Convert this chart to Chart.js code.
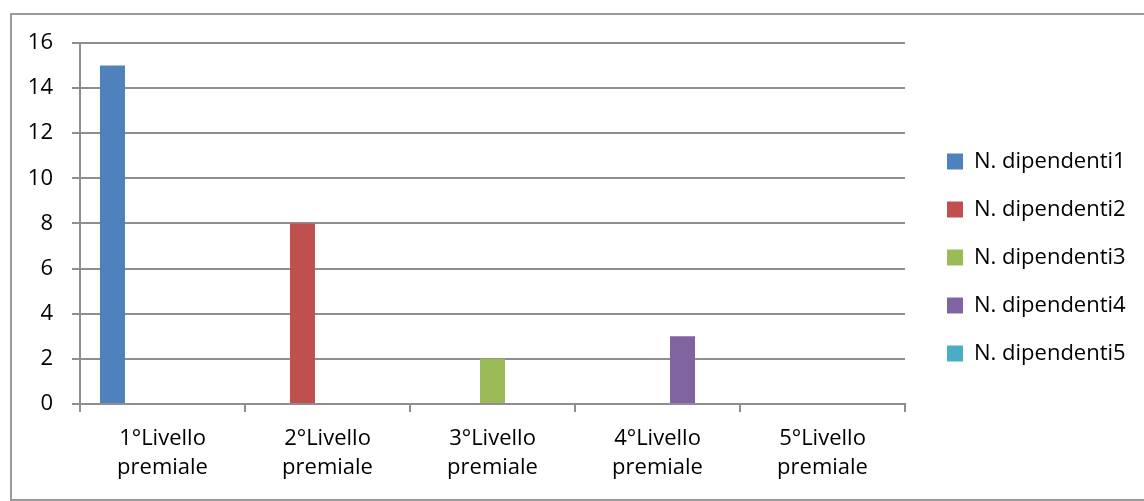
<!DOCTYPE html>
<html>
<head>
<meta charset="utf-8">
<script src="https://cdn.jsdelivr.net/npm/chart.js@4"></script>
<style>
  html, body { margin: 0; padding: 0; background: #fff; overflow: hidden; }
  #frame { position: absolute; left: 10px; top: 13px; width: 1200px; height: 484px; border: 2px solid #9a9a9a; }
  #chart { position: absolute; left: 0; top: 0; }
</style>
</head>
<body>
<div id="frame"></div>
<canvas id="chart" width="1144" height="501"></canvas>
<script>
// categorie (asse x, su due righe)
const categorie = [
  ["1°Livello", "premiale"],
  ["2°Livello", "premiale"],
  ["3°Livello", "premiale"],
  ["4°Livello", "premiale"],
  ["5°Livello", "premiale"]
];

// una serie per livello
const dipendenti1 = [15, 0, 0, 0, 0];
const dipendenti2 = [0, 8, 0, 0, 0];
const dipendenti3 = [0, 0, 2, 0, 0];
const dipendenti4 = [0, 0, 0, 3, 0];
const dipendenti5 = [0, 0, 0, 0, 0];

const nomiSerie = ["N. dipendenti1", "N. dipendenti2", "N. dipendenti3", "N. dipendenti4", "N. dipendenti5"];
const colori = ["#4F81BD", "#C0504D", "#9BBB59", "#8064A2", "#4BACC6"];

// tick asse y
const yMin = 0;
const yMax = 16;
const yStep = 2;

const font = "'Open Sans', sans-serif";
const grigio = "#8e8e8e";

const serie = [dipendenti1, dipendenti2, dipendenti3, dipendenti4, dipendenti5];
const datasets = [];
for (let i = 0; i < serie.length; i++) {
  datasets.push({
    label: nomiSerie[i],
    data: serie[i],
    backgroundColor: colori[i],
    borderWidth: 0,
    categoryPercentage: 0.758,
    barPercentage: 1.0
  });
}

const ctx = document.getElementById("chart").getContext("2d");
new Chart(ctx, {
  type: "bar",
  data: {
    labels: categorie,
    datasets: datasets
  },
  options: {
    responsive: false,
    animation: false,
    devicePixelRatio: 1,
    layout: {
      padding: { top: 21, left: 0, right: 10, bottom: 7 }
    },
    plugins: {
      tooltip: { enabled: false },
      // titolo vuoto: serve solo come spazio sopra l'area del grafico
      title: {
        display: true,
        text: "",
        fullSize: false,
        padding: 0,
        font: { size: 22, lineHeight: 1 }
      },
      legend: {
        position: "right",
        maxWidth: 213,
        labels: {
          boxWidth: 16,
          boxHeight: 16,
          padding: 26,
          color: "#000",
          font: { family: font, size: 22 }
        }
      }
    },
    scales: {
      x: {
        grid: {
          offset: true,
          drawOnChartArea: false,
          drawTicks: true,
          tickLength: 8,
          color: grigio,
          lineWidth: 2
        },
        border: { display: true, color: grigio, width: 2 },
        ticks: {
          color: "#000",
          padding: 12,
          maxRotation: 0,
          font: { family: font, size: 22, lineHeight: 1.32 }
        }
      },
      y: {
        min: yMin,
        max: yMax,
        grid: {
          color: grigio,
          lineWidth: 2,
          drawTicks: true,
          tickLength: 8
        },
        border: { display: true, color: grigio, width: 2 },
        ticks: {
          stepSize: yStep,
          color: "#000",
          padding: 19,
          font: { family: font, size: 22 }
        },
        afterFit: (scale) => { scale.width = 80; }
      },
      // asse vuoto: solo per distanziare la legenda dal grafico
      spazio: {
        position: "right",
        display: true,
        grid: { display: false },
        border: { display: false },
        ticks: { display: false },
        afterFit: (scale) => { scale.width = 16; }
      }
    }
  }
});
</script>
</body>
</html>
